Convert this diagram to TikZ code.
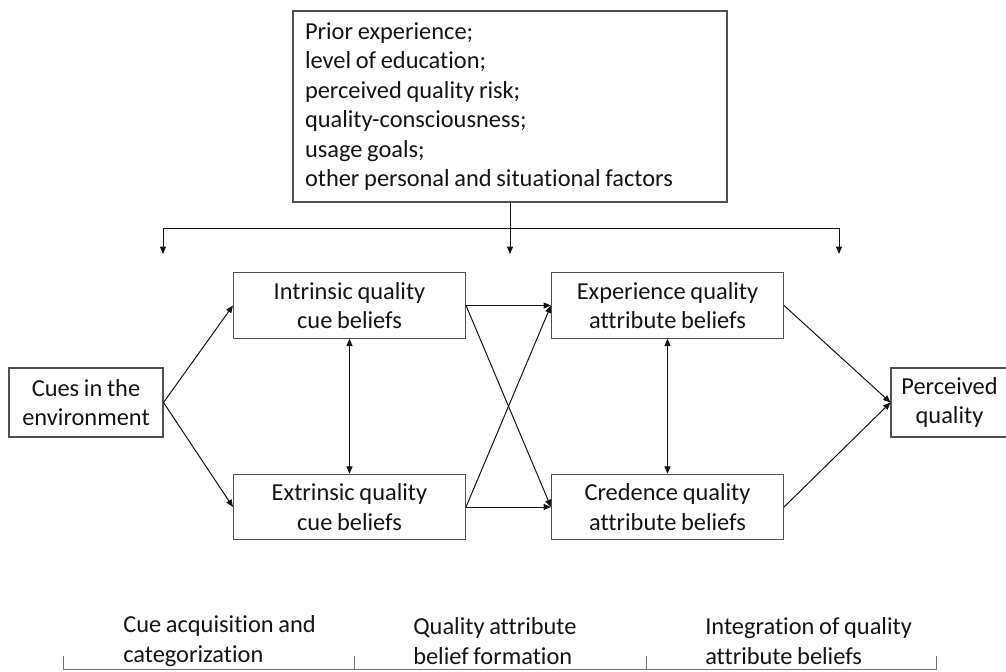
\documentclass[tikz,border=0pt]{standalone}
\usepackage{fontspec}
\setmainfont{Carlito}[Ligatures=NoCommon, WordSpace=0.85]
\usetikzlibrary{arrows.meta}
\definecolor{ink}{RGB}{20,20,20}
\definecolor{rule}{RGB}{80,80,80}

\begin{document}
\begin{tikzpicture}[x=0.75pt, y=-0.75pt,
  font=\fontsize{18.3}{22.1}\selectfont, text=ink,
  box/.style={draw=rule, line width=0.8pt, align=center, inner sep=0pt,
              minimum width=174pt, minimum height=49pt},
  endbox/.style={box, minimum width=#1, minimum height=51.75pt},
  factbox/.style={draw=rule, line width=0.8pt, align=flush left, inner xsep=9pt, inner ysep=0pt,
                  text width=307.5pt, minimum height=143.25pt},
  stage/.style={align=left, inner sep=0pt, anchor=west},
  arr/.style={-{Triangle[length=5.5pt,width=4.5pt]}, line width=0.75pt, draw=ink},
  biarr/.style={{Triangle[length=5.5pt,width=4.5pt]}-{Triangle[length=5.5pt,width=4.5pt]},
                line width=0.75pt, draw=ink},
  bracket/.style={line width=0.75pt, draw=rule!80}]
\useasboundingbox (0,0) rectangle (1006,671);
% moderating factors
\node[factbox] (fact) at (510,106.5) {Prior experience;\\level of education;\\perceived quality risk;\\quality-consciousness;\\usage goals;\\other personal and situational factors};
% boxes
\node[endbox=115.5pt] (cues) at (86,402.5) {Cues in the\\environment};
\node[box] (intr) at (349.5,305.5) {Intrinsic quality\\cue beliefs};
\node[box] (extr) at (349.5,507) {Extrinsic quality\\cue beliefs};
\node[box] (exper) at (667.5,305.5) {Experience quality\\attribute beliefs};
\node[box] (cred) at (667.5,507) {Credence quality\\attribute beliefs};
\node[endbox=87.75pt] (perc) at (949.5,402.5) {Perceived\\quality};
% fan-out from the factors
\coordinate (hl) at (163,228); \coordinate (hr) at (839,228);
\coordinate (dl) at (163,254); \coordinate (dm) at (510,254); \coordinate (dr) at (839,254);
\draw[line width=0.75pt, draw=ink] (hl)--(hr);
\draw[arr] (hl)--(dl); \draw[arr] (hr)--(dr); \draw[arr] (fact.south)--(dm);
% arrows
\draw[arr] (cues.east)--(intr.west); \draw[arr] (cues.east)--(extr.west);
\draw[arr] (intr.east)--(exper.west); \draw[arr] (intr.east)--(cred.west);
\draw[arr] (extr.east)--(exper.west); \draw[arr] (extr.east)--(cred.west);
\draw[biarr] (intr.south)--(extr.north); \draw[biarr] (exper.south)--(cred.north);
\draw[arr] (exper.east)--(perc.west); \draw[arr] (cred.east)--(perc.west);
% stages
\node[stage] (st1) at (123,641) {Cue acquisition and\\categorization};
\node[stage] (st2) at (413,641) {Quality attribute\\belief formation};
\node[stage] (st3) at (705,641) {Integration of quality\\attribute beliefs};
\draw[bracket] (63,656)--(63,669)--(936,669)--(936,656);
\draw[bracket] (354,656)--(354,669); \draw[bracket] (646,656)--(646,669);
\end{tikzpicture}
\end{document}
